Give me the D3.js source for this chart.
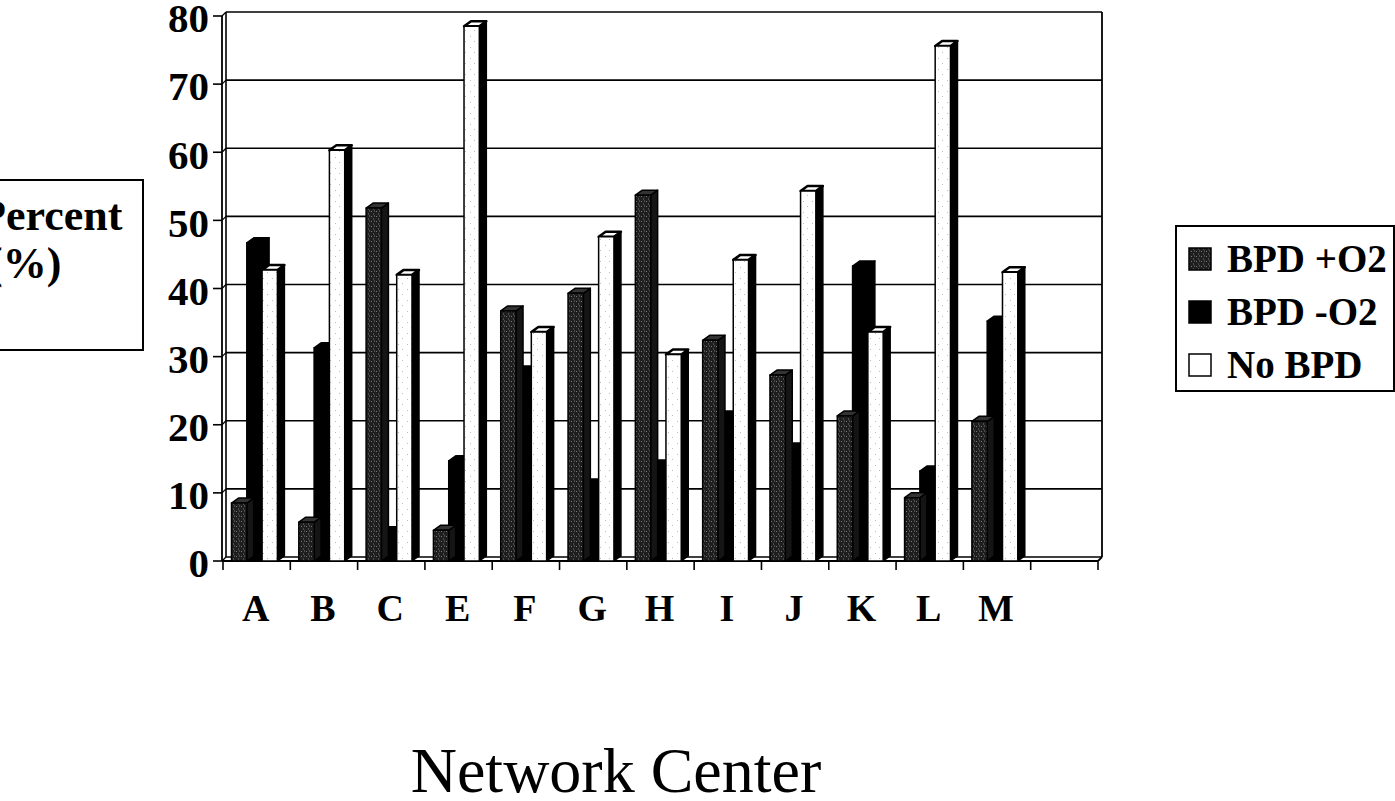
<!DOCTYPE html>
<html><head><meta charset="utf-8">
<script src="https://cdn.jsdelivr.net/npm/d3@7"></script>
<style>html,body{margin:0;padding:0;background:#fff;overflow:hidden}svg{display:block}</style>
</head><body>
<svg id="chart" width="1395" height="801"></svg>
<script>
// ---- data ----
const categories = ["A","B","C","E","F","G","H","I","J","K","L","M"];
const seriesNames = ["BPD +O2","BPD -O2","No BPD"];
const bpdPlusO2  = [8.5, 5.7, 51.8, 4.5, 36.7, 39.3, 53.7, 32.4, 27.3, 21.3, 9.3, 20.5];
const bpdMinusO2 = [46.7, 31.3, 4.3, 14.7, 27.9, 11.3, 14.1, 21.3, 16.6, 43.3, 13.2, 35.2];
const noBpd      = [42.7, 60.3, 42.0, 78.5, 33.6, 47.6, 30.3, 44.2, 54.3, 33.6, 75.6, 42.4];
const yTicks = [0,10,20,30,40,50,60,70,80];
const xTitle = "Network Center";
const yTitleLines = ["Percent","(%)"];

const svg = d3.select("#chart");
const defs = svg.append("defs");
// stipple patterns
const p1 = defs.append("pattern").attr("id","stipDark").attr("patternUnits","userSpaceOnUse").attr("width",5).attr("height",5);
p1.append("rect").attr("width",5).attr("height",5).attr("fill","#1e1e1e");
[[1,1],[3,3.5],[4,0.5]].forEach(d=>p1.append("rect").attr("x",d[0]).attr("y",d[1]).attr("width",1).attr("height",1).attr("fill","#7a7a7a"));
const p3 = defs.append("pattern").attr("id","stipLight").attr("patternUnits","userSpaceOnUse").attr("width",9).attr("height",11);
p3.append("rect").attr("width",9).attr("height",11).attr("fill","#fff");
[[2,3],[6,8]].forEach(d=>p3.append("rect").attr("x",d[0]).attr("y",d[1]).attr("width",1).attr("height",1).attr("fill","#bbb"));

const fills = ["url(#stipDark)","#000","url(#stipLight)"];
const sideFills = ["#151515","#000","#000"];
const topFills = ["#333","#000","#fff"];

const slots = categories.concat([" "]);
const x = d3.scaleBand().domain(slots).range([223,1098]).paddingInner(0).paddingOuter(0);
const y = d3.scaleLinear().domain([0,80]).range([561,16]);
const dx = 4, dy = 4;       // wall depth offset
const bdx = 7, bdy = 5;     // bar side depth
const bw = 15.3, bOff = 8.5;

// wall & gridlines
const g = svg.append("g").attr("fill","none").attr("stroke","#000");
yTicks.forEach(v=>{
  g.append("line").attr("x1",222+dx).attr("x2",1102).attr("y1",y(v)-dy).attr("y2",y(v)-dy).attr("stroke-width",1.6);
  g.append("line").attr("x1",213).attr("x2",222).attr("y1",y(v)).attr("y2",y(v)).attr("stroke-width",1.6);
  g.append("line").attr("x1",222).attr("x2",222+dx).attr("y1",y(v)).attr("y2",y(v)-dy).attr("stroke-width",1.2);
});
g.append("line").attr("x1",222).attr("x2",222).attr("y1",y(0)).attr("y2",y(80)).attr("stroke-width",1.8);
g.append("line").attr("x1",222+dx).attr("x2",222+dx).attr("y1",y(0)-dy).attr("y2",y(80)-dy).attr("stroke-width",1.6);
g.append("line").attr("x1",1102).attr("x2",1102).attr("y1",y(0)-dy).attr("y2",y(80)-dy).attr("stroke-width",1.8);
g.append("line").attr("x1",222).attr("x2",1098).attr("y1",y(0)).attr("y2",y(0)).attr("stroke-width",1.8);
g.append("line").attr("x1",1098).attr("x2",1102).attr("y1",y(0)).attr("y2",y(0)-dy).attr("stroke-width",1.8);
// bottom ticks
slots.forEach((s,i)=>{
  g.append("line").attr("x1",x(s)).attr("x2",x(s)).attr("y1",y(0)).attr("y2",y(0)+9).attr("stroke-width",1.6);
});
g.append("line").attr("x1",1098).attr("x2",1098).attr("y1",y(0)).attr("y2",y(0)+9).attr("stroke-width",1.6);

// bars
const series = [bpdPlusO2,bpdMinusO2,noBpd];
const order = [1,0,2];
const bars = svg.append("g").attr("stroke","#000").attr("stroke-width",1.5).attr("stroke-linejoin","round");
categories.forEach((c,ci)=>{
  order.forEach(si=>{
    const v = series[si][ci];
    const x0 = x(c)+bOff+si*bw, x1 = x0+bw, yt = y(v), yb = y(0);
    const bg = bars.append("g");
    bg.append("path").attr("d",`M${x1},${yb}L${x1},${yt}L${x1+bdx},${yt-bdy}L${x1+bdx},${yb-bdy}L${x1},${yb}Z`).attr("fill",sideFills[si]);
    bg.append("path").attr("d",`M${x0},${yt}L${x0+bdx},${yt-bdy}L${x1+bdx},${yt-bdy}L${x1},${yt}Z`).attr("fill",topFills[si]).attr("stroke-width",si===2?2.5:1.5);
    bg.append("rect").attr("x",x0).attr("y",yt).attr("width",bw).attr("height",yb-yt).attr("fill",fills[si]);
  });
});

// y tick labels
const font = "'Liberation Serif','Times New Roman',serif";
svg.append("g").selectAll("text").data(yTicks).join("text")
  .attr("x",209).attr("y",d=>y(d)+2).attr("dy","0.35em").attr("text-anchor","end")
  .attr("font-family",font).attr("font-weight","bold").attr("font-size",41).text(d=>d);
// x labels
svg.append("g").selectAll("text").data(categories).join("text")
  .attr("x",d=>x(d)+x.bandwidth()/2-1).attr("y",621).attr("text-anchor","middle")
  .attr("font-family",font).attr("font-weight","bold").attr("font-size",38).text(d=>d);
// x title
svg.append("text").attr("x",616).attr("y",792).attr("text-anchor","middle")
  .attr("font-family",font).attr("font-size",64).text(xTitle);
// y title box
svg.append("path").attr("d","M-2,180L143,180L143,350L-2,350").attr("fill","none").attr("stroke","#000").attr("stroke-width",2);
svg.append("text").attr("x",-21).attr("y",230).attr("font-family",font).attr("font-weight","bold").attr("font-size",44).text(yTitleLines[0]);
svg.append("text").attr("x",-12).attr("y",278).attr("font-family",font).attr("font-weight","bold").attr("font-size",44).text(yTitleLines[1]);

// legend
const lg = svg.append("g");
lg.append("rect").attr("x",1176).attr("y",226).attr("width",218).attr("height",165).attr("fill","#fff").attr("stroke","#000").attr("stroke-width",2);
const legFills = ["url(#stipDark)","#000","#fff"];
seriesNames.forEach((n,i)=>{
  const by = 272 + i*53;
  lg.append("rect").attr("x",1189).attr("y",by-24).attr("width",22).attr("height",22).attr("fill",legFills[i]).attr("stroke","#000").attr("stroke-width",1.5);
  lg.append("text").attr("x",1227).attr("y",by).attr("font-family",font).attr("font-weight","bold").attr("font-size",39).text(n);
});
</script>
</body></html>
